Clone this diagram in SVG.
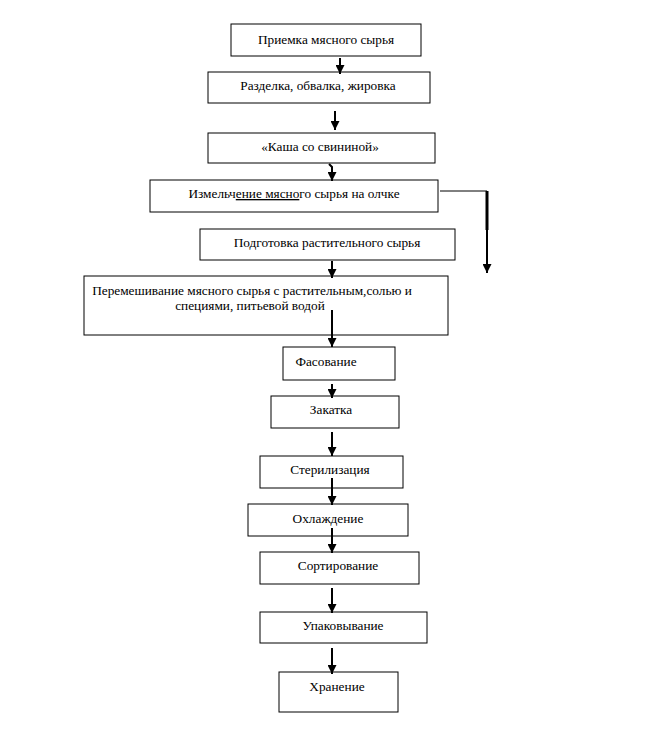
<svg xmlns="http://www.w3.org/2000/svg" width="646" height="743" viewBox="0 0 646 743">
<defs>
<marker id="ah" viewBox="0 0 10 10" refX="10" refY="5" markerWidth="4.5" markerHeight="4.5" orient="auto" markerUnits="strokeWidth">
<path d="M0,0 L10,5 L0,10 Z" fill="#000"/>
</marker>
<style>
.box{fill:#fff;stroke:#000;stroke-width:1}
.t{font-family:"Liberation Serif","Times New Roman",serif;font-size:13.3px;fill:#000;text-anchor:middle}
.c{stroke:#000;stroke-width:2;fill:none}
.c1{stroke:#000;stroke-width:1;fill:none}
</style>
</defs>
<rect width="646" height="743" fill="#fff"/>
<g id="n1"><rect class="box" x="231" y="24" width="190" height="32"/><text class="t" x="326" y="44">Приемка мясного сырья</text></g>
<g id="n2"><rect class="box" x="208" y="72" width="222" height="31"/><text class="t" x="318" y="90">Разделка, обвалка, жировка</text></g>
<g id="n3"><rect class="box" x="208" y="133" width="227" height="30"/><text class="t" x="320" y="151">«Каша со свининой»</text></g>
<g id="n4"><rect class="box" x="150" y="180" width="288" height="32"/><text class="t" x="294" y="198">Измельч<tspan text-decoration="underline">ение мясно</tspan>го сырья на олчке</text></g>
<g id="n5"><rect class="box" x="200" y="229" width="255" height="31"/><text class="t" x="327" y="247">Подготовка растительного сырья</text></g>
<g id="n6"><rect class="box" x="84" y="276" width="364" height="59"/><text class="t" x="252" y="295">Перемешивание мясного сырья с растительным,солью и</text><text class="t" x="250" y="310">специями, питьевой водой</text></g>
<g id="n7"><rect class="box" x="283" y="347" width="112" height="33"/><text class="t" x="326" y="366">Фасование</text></g>
<g id="n8"><rect class="box" x="271" y="396" width="128" height="32"/><text class="t" x="331" y="414">Закатка</text></g>
<g id="n9"><rect class="box" x="260" y="456" width="143" height="32"/><text class="t" x="330" y="474">Стерилизация</text></g>
<g id="n10"><rect class="box" x="248" y="504" width="160" height="32"/><text class="t" x="328" y="523">Охлаждение</text></g>
<g id="n11"><rect class="box" x="260" y="552" width="159" height="32"/><text class="t" x="338" y="570">Сортирование</text></g>
<g id="n12"><rect class="box" x="260" y="612" width="167" height="31"/><text class="t" x="343" y="630">Упаковывание</text></g>
<g id="n13"><rect class="box" x="279" y="672" width="119" height="40"/><text class="t" x="337" y="691">Хранение</text></g>
<g id="connectors">
<line class="c" x1="340" y1="58" x2="340" y2="74" marker-end="url(#ah)"/>
<line class="c" x1="335" y1="111" x2="335" y2="130" marker-end="url(#ah)"/>
<path class="c" d="M329,164 L332,167 L332,181" marker-end="url(#ah)"/>
<line class="c1" x1="440" y1="191" x2="487" y2="191"/>
<line x1="487" y1="191" x2="487" y2="230" stroke="#000" stroke-width="3"/>
<line class="c" x1="487" y1="229" x2="487" y2="273" marker-end="url(#ah)"/>
<line class="c" x1="332" y1="261" x2="332" y2="278" marker-end="url(#ah)"/>
<line class="c" x1="332" y1="310" x2="332" y2="347" marker-end="url(#ah)"/>
<line class="c" x1="332" y1="384" x2="332" y2="398" marker-end="url(#ah)"/>
<line class="c" x1="332" y1="432" x2="332" y2="456" marker-end="url(#ah)"/>
<line class="c" x1="332" y1="478" x2="332" y2="505" marker-end="url(#ah)"/>
<line class="c" x1="332" y1="528" x2="332" y2="553" marker-end="url(#ah)"/>
<line class="c" x1="332" y1="588" x2="332" y2="613" marker-end="url(#ah)"/>
<line class="c" x1="332" y1="648" x2="332" y2="674" marker-end="url(#ah)"/>
</g>
</svg>
